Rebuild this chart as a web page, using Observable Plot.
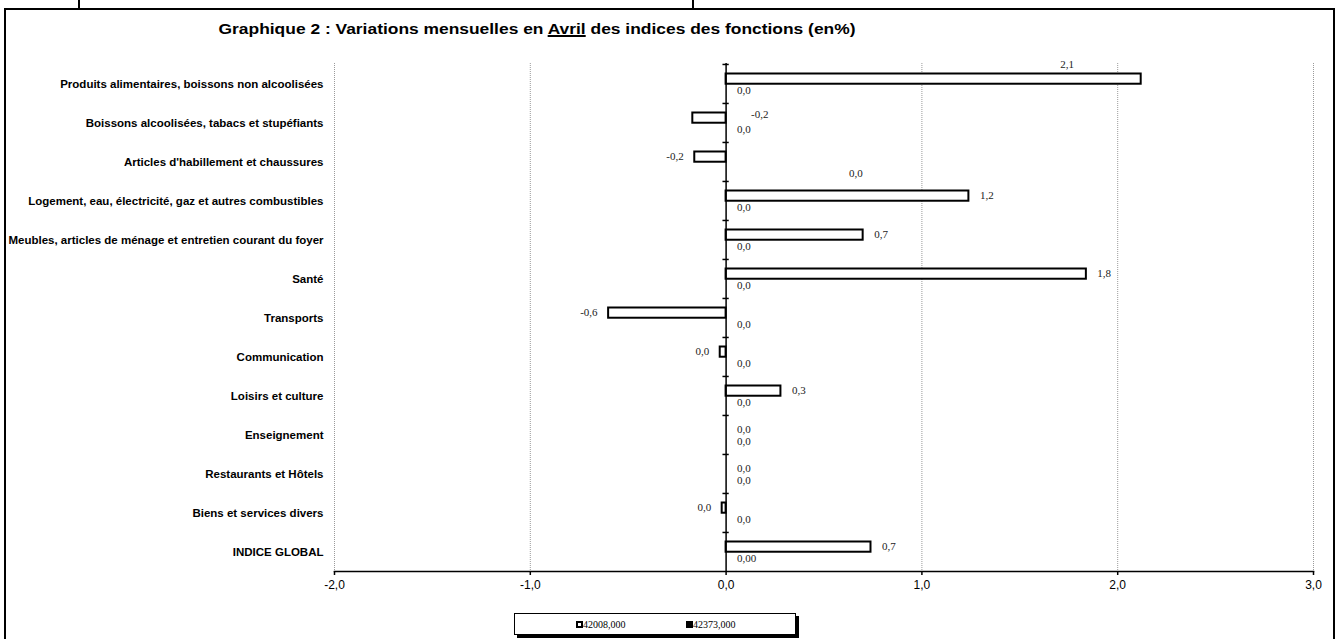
<!DOCTYPE html>
<html>
<head>
<meta charset="utf-8">
<script src="https://cdn.jsdelivr.net/npm/d3@7"></script>
<script src="https://cdn.jsdelivr.net/npm/@observablehq/plot@0.6"></script>
<style>
  html, body { margin: 0; padding: 0; background: #fff; }
  #wrap { position: relative; width: 1335px; height: 639px; overflow: hidden; background: #fff; }
  .seg { position: absolute; top: 0; width: 2px; height: 9px; background: #000; }
  #box { position: absolute; left: 4px; top: 8px; width: 1327px; height: 700px; border: 2px solid #000; }
  #title { position: absolute; left: 0; top: 20px; width: 1074px; text-align: center;
           font: bold 15px "Liberation Sans", Arial, sans-serif; color: #000;
           transform: scaleX(1.16); transform-origin: 537px 0; }
  #title u { text-decoration: underline; text-decoration-thickness: 1.5px; }
  #chart { position: absolute; left: 0; top: 0; }
  #legend { position: absolute; left: 514px; top: 613px; width: 280px; height: 20px;
            border: 1px solid #000; background: #fff; box-shadow: 3px 3px 0 #000;
            font: 10px "Liberation Serif", "Times New Roman", serif; color: #000; }
  #legend .sw { position: absolute; top: 7px; width: 7px; height: 7px; box-sizing: border-box; border: 2px solid #000; }
  #legend .lb { position: absolute; top: 0; line-height: 21px; }
</style>
</head>
<body>
<div id="wrap">
  <div class="seg" style="left:78px"></div>
  <div class="seg" style="left:692px"></div>
  <div id="box"></div>
  <div id="title">Graphique 2 : Variations mensuelles en <u>Avril</u> des indices des fonctions (en%)</div>
  <div id="chart"></div>
  <div id="legend"></div>
</div>
<script>
// ---- data ----
const categories = [
  "Produits alimentaires, boissons non alcoolisées",
  "Boissons alcoolisées, tabacs et stupéfiants",
  "Articles d'habillement et chaussures",
  "Logement, eau, électricité, gaz et autres combustibles",
  "Meubles, articles de ménage et entretien courant du foyer",
  "Santé",
  "Transports",
  "Communication",
  "Loisirs et culture",
  "Enseignement",
  "Restaurants et Hôtels",
  "Biens et services divers",
  "INDICE GLOBAL"
];
const series1 = [2.12, -0.17, -0.16, 1.24, 0.70, 1.84, -0.60, -0.03, 0.28, 0.00, 0.00, -0.02, 0.74];
const series2 = [0, 0, 0, 0, 0, 0, 0, 0, 0, 0, 0, 0, 0];
const seriesNames = ["42008,000", "42373,000"];
const xTicks = [-2, -1, 0, 1, 2, 3];
const gridTicks = [-2, -1, 1, 2, 3];

// ---- layout ----
const W = 1335, H = 600;
const mTop = 63, mBottom = 29, mLeft = 334, mRight = 22;
const bw = (H - mTop - mBottom) / categories.length;
const serif = "'Liberation Serif', 'Times New Roman', serif";

// per-label placement tweaks (pixels), as in the original chart
const label1Layout = {
  "Produits alimentaires, boissons non alcoolisées": {dx: -74, dy: -14, anchor: "middle"},
  "Boissons alcoolisées, tabacs et stupéfiants": {fromZero: true, dx: 25, dy: -3, anchor: "start"}
};
const label2Layout = {
  "Articles d'habillement et chaussures": {dx: 123, dy: 11.5 - (26 - bw / 2)}
};

const fmt = (v, dec = 1) => {
  const p = Math.pow(10, dec);
  let r = Math.round(v * p) / p;
  if (r === 0) r = 0;
  return r.toFixed(dec).replace(".", ",");
};

const rows = categories.map((c, i) => ({cat: c, v1: series1[i], v2: series2[i]}));

const marks = [];
// gridlines
marks.push(Plot.ruleX(gridTicks, {stroke: "#9a9a9a", strokeWidth: 1, strokeDasharray: "1,1"}));
// bars series 1
marks.push(Plot.barX(rows, {y: "cat", x: "v1", fill: "#fff", stroke: "#000", strokeWidth: 2,
  insetTop: 9.5, insetBottom: bw - 19.8}));
// bars series 2 (zero)
marks.push(Plot.barX(rows, {y: "cat", x: "v2", fill: "#000", insetTop: 20, insetBottom: bw - 31}));
// zero axis
marks.push(Plot.ruleX([0], {stroke: "#000", strokeWidth: 1.5}));
// category ticks on zero axis (band boundaries)
marks.push(Plot.ruleY(categories, {y: d => d, x1: -0.016, x2: 0.016, dy: -bw / 2, stroke: "#000", strokeWidth: 1.5}));
// bottom axis line
marks.push(Plot.frame({anchor: "bottom", stroke: "#000", strokeWidth: 1.5}));
// axes
marks.push(Plot.axisX(xTicks, {tickSize: 4, tickPadding: 5, fontSize: 12, stroke: "#000", strokeWidth: 1.5,
  tickFormat: d => d.toFixed(1).replace(".", ","), label: null}));
marks.push(Plot.axisY({tickSize: 0, tickPadding: 11, fontSize: 11.5, fontWeight: "bold", label: null}));
// labels series 1
rows.forEach(r => {
  const lay = label1Layout[r.cat];
  let dx, dy = 14.5 - bw / 2, anchor;
  if (lay) { dx = lay.dx; dy = dy + lay.dy; anchor = lay.anchor; }
  else if (r.v1 < 0) { dx = -11; anchor = "end"; }
  else { dx = 11; anchor = "start"; }
  marks.push(Plot.text([r], {y: "cat", x: d => (lay && lay.fromZero) ? 0 : d.v1,
    text: d => fmt(d.v1), dx, dy, textAnchor: anchor, fontSize: 11, fontFamily: serif, fill: "#222"}));
});
// labels series 2
rows.forEach((r, i) => {
  const lay = label2Layout[r.cat];
  const dec = i === rows.length - 1 ? 2 : 1;
  marks.push(Plot.text([r], {y: "cat", x: "v2", text: d => fmt(d.v2, dec),
    dx: lay ? lay.dx : 11, dy: (26 - bw / 2) + (lay ? lay.dy : 0), textAnchor: "start",
    fontSize: 11, fontFamily: serif, fill: "#222"}));
});

const chart = Plot.plot({
  width: W, height: H,
  marginTop: mTop, marginBottom: mBottom, marginLeft: mLeft, marginRight: mRight,
  style: {fontFamily: "'Liberation Sans', Arial, sans-serif", color: "#000", background: "transparent", overflow: "visible"},
  x: {domain: [-2, 3], axis: null},
  y: {domain: categories, padding: 0, axis: null},
  marks
});
document.getElementById("chart").appendChild(chart);

// legend
const legend = document.getElementById("legend");
const swLeft = [61, 171];
seriesNames.forEach((n, i) => {
  const sw = document.createElement("div");
  sw.className = "sw";
  sw.style.left = swLeft[i] + "px";
  sw.style.background = i === 0 ? "#fff" : "#000";
  legend.appendChild(sw);
  const lb = document.createElement("div");
  lb.className = "lb";
  lb.style.left = (swLeft[i] + 7) + "px";
  lb.textContent = n;
  legend.appendChild(lb);
});
</script>
</body>
</html>
